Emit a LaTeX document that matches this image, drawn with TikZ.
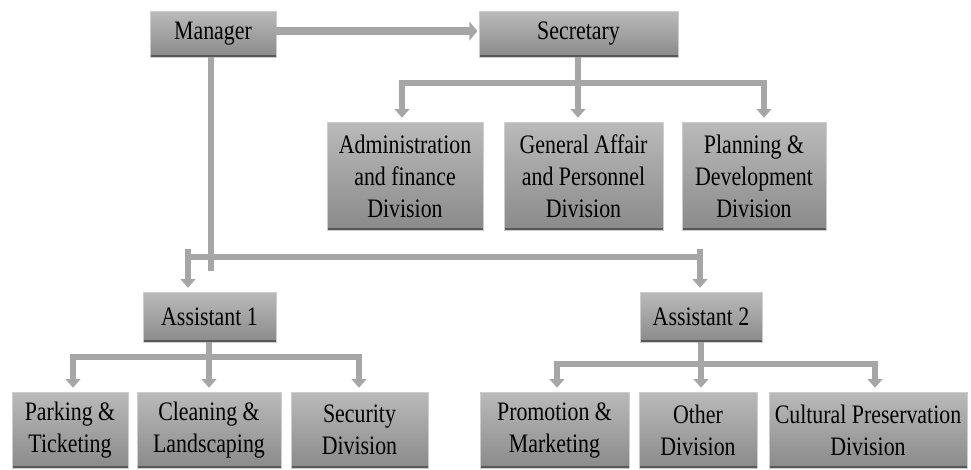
\documentclass[tikz,border=0pt]{standalone}
\usepackage{fontspec}
\setmainfont{Liberation Serif}[FakeStretch=0.82]
\usetikzlibrary{arrows.meta}

\definecolor{boxtop}{RGB}{186,186,186}
\definecolor{boxbot}{RGB}{138,138,138}
\definecolor{boxedge}{RGB}{88,88,88}
\definecolor{boxrim}{RGB}{205,205,205}
\definecolor{linkgray}{RGB}{166,166,166}

\begin{document}
\begin{tikzpicture}[x=0.75pt,y=-0.75pt,
  unit/.style 2 args={draw=boxrim, line width=0.4pt,
    top color=boxtop, bottom color=boxbot,
    minimum width=#1*0.75pt, minimum height=#2*0.75pt,
    inner sep=0pt, align=center, text=black,
    font=\fontsize{20}{24}\selectfont,
    path picture={\draw[boxedge, line width=2.4pt]
      (path picture bounding box.south west) -- (path picture bounding box.south east);}},
  link/.style={draw=linkgray, line width=5pt},
  tip/.style={link, -{Triangle[width=11pt,length=6.5pt]}, shorten >=3pt},
]
\useasboundingbox (0,0) rectangle (971,469);

% top level
\node[unit={126}{46}] (mgr) at (213,34) {Manager};
\node[unit={199}{46}] (sec) at (578.5,34) {Secretary};

% secretary's divisions
\node[unit={156}{108}] (adm) at (405,176) {Administration\\and finance\\Division};
\node[unit={159}{108}] (gen) at (583.5,176) {General Affair\\and Personnel\\Division};
\node[unit={144}{108}] (pln) at (754,176) {Planning \&\\Development\\Division};

% assistants
\node[unit={133}{50}] (as1) at (209.5,317) {Assistant 1};
\node[unit={122}{50}] (as2) at (701,317) {Assistant 2};

% divisions under the assistants
\node[unit={116}{76}] (prk) at (70,430) {Parking \&\\Ticketing};
\node[unit={144}{76}] (cln) at (209,430) {Cleaning \&\\Landscaping};
\node[unit={137}{76}] (scr) at (359.5,430) {Security\\Division};
\node[unit={149}{76}] (prm) at (554.5,430) {Promotion \&\\Marketing};
\node[unit={118}{76}] (oth) at (698,430) {Other\\Division};
\node[unit={198}{76}] (cul) at (868,430) {Cultural Preservation\\Division};

% manager to secretary
\draw[link, line width=6.5pt, -{Triangle[width=14pt,length=6pt]}, shorten >=1pt]
  ([yshift=2.2pt]mgr.east) -- ([yshift=2.2pt]sec.west);

% manager down to the assistants' bar
\coordinate (mgrfoot) at (211,271);
\coordinate (bl) at (188,257);
\coordinate (br) at (700,257);
\draw[link] (mgr.south -| mgrfoot) -- (mgrfoot);
\draw[link] (bl) -- (br);
\draw[tip] ([yshift=6pt]bl) -- (bl |- as1.north);
\draw[tip] ([yshift=6pt]br) -- (br |- as2.north);

% secretary to its divisions
\coordinate (sm) at (578,83);
\coordinate (sl) at (402,83);
\coordinate (sr) at (764,83);
\draw[link] (sec.south -| sm) -- (sm);
\draw[link] (sl) -- (sr);
\draw[tip] ([yshift=2.5pt]sl) -- (sl |- adm.north);
\draw[tip] (sm) -- (sm |- gen.north);
\draw[tip] ([yshift=2.5pt]sr) -- (sr |- pln.north);

% assistant 1 to its divisions
\coordinate (am) at (209,357);
\coordinate (al) at (73,357);
\coordinate (ar) at (359,357);
\draw[link] (as1.south -| am) -- (am);
\draw[link] (al) -- (ar);
\draw[tip] ([yshift=2.5pt]al) -- (al |- prk.north);
\draw[tip] (am) -- (am |- cln.north);
\draw[tip] ([yshift=2.5pt]ar) -- (ar |- scr.north);

% assistant 2 to its divisions
\coordinate (bm) at (701,364);
\coordinate (bl2) at (557,364);
\coordinate (br2) at (875,364);
\draw[link] (as2.south -| bm) -- (bm);
\draw[link] (bl2) -- (br2);
\draw[tip] ([yshift=2.5pt]bl2) -- (bl2 |- prm.north);
\draw[tip] (bm) -- (bm |- oth.north);
\draw[tip] ([yshift=2.5pt]br2) -- (br2 |- cul.north);
\end{tikzpicture}
\end{document}
